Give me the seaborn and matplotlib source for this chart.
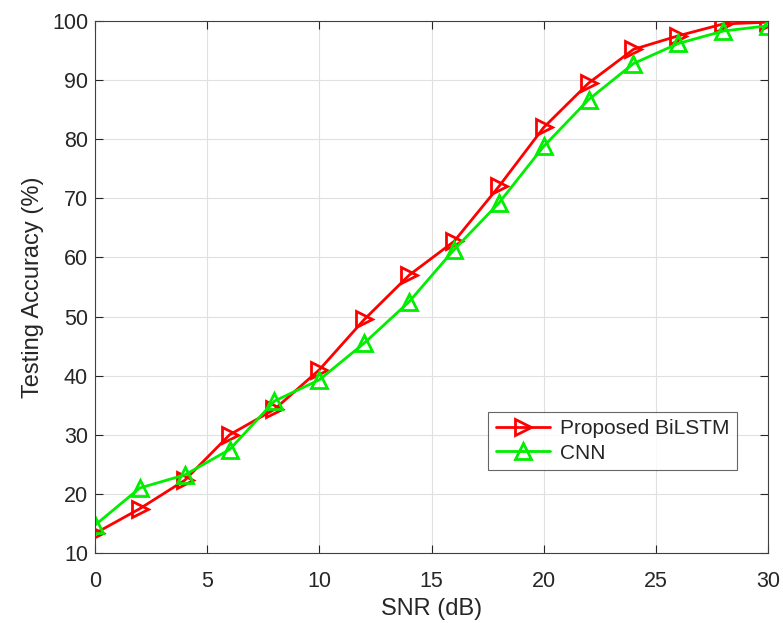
import matplotlib
matplotlib.use("Agg")
import matplotlib.pyplot as plt
import seaborn as sns
import pandas as pd

snr = [0, 2, 4, 6, 8, 10, 12, 14, 16, 18, 20, 22, 24, 26, 28, 30]
bilstm = [13.3, 17.5, 22.3, 30.0, 34.3, 41.0, 49.5, 57.0, 62.7, 72.0, 82.0, 89.5, 95.2, 97.5, 99.5, 99.8]
cnn = [14.7, 21.0, 23.2, 27.5, 35.7, 39.3, 45.5, 52.5, 61.3, 69.2, 78.8, 86.7, 92.8, 96.2, 98.3, 99.2]
labels = ["Proposed BiLSTM", "CNN"]

sns.set_theme(style="whitegrid")
plt.rcParams['font.family'] = ['Liberation Sans', 'DejaVu Sans']

fig = plt.figure(figsize=(7.83, 6.23), dpi=100)
ax = fig.add_axes([0.1213, 0.1124, 0.8597, 0.8539])

sns.lineplot(x=snr, y=bilstm, ax=ax, color='#ff0000', marker='>', markersize=11,
             markerfacecolor='none', markeredgecolor='#ff0000', markeredgewidth=2,
             linewidth=2, label=labels[0])
sns.lineplot(x=snr, y=cnn, ax=ax, color='#00ee00', marker='^', markersize=11,
             markerfacecolor='none', markeredgecolor='#00ee00', markeredgewidth=2,
             linewidth=2, label=labels[1])

ax.set_xlim(0, 30)
ax.set_ylim(10, 100)
ax.set_xticks([0, 5, 10, 15, 20, 25, 30])
ax.set_yticks(range(10, 101, 10))
ax.set_xlabel("SNR (dB)", fontsize=17, color='#262626', labelpad=4)
ax.set_ylabel("Testing Accuracy (%)", fontsize=17, color='#262626', labelpad=6)
ax.tick_params(axis='both', labelsize=15.5, colors='#262626', direction='in',
               length=6, width=0.8, top=True, right=True, bottom=True, left=True)
ax.tick_params(axis='x', pad=13)
ax.tick_params(axis='y', pad=5)
ax.set_facecolor('white')
ax.grid(True, color='#e0e0e0', linewidth=0.8)
for s in ax.spines.values():
    s.set_color('#404040')
    s.set_linewidth(0.8)
    s.set_visible(True)

leg = ax.legend(loc='lower right', bbox_to_anchor=(0.954, 0.156), borderaxespad=0,
                fontsize=15, frameon=True, fancybox=False, edgecolor='#404040',
                handlelength=2.6, handletextpad=0.5, borderpad=0.35, labelspacing=0.25)
leg.get_frame().set_linewidth(0.8)

fig.savefig("out.png", dpi=100)
